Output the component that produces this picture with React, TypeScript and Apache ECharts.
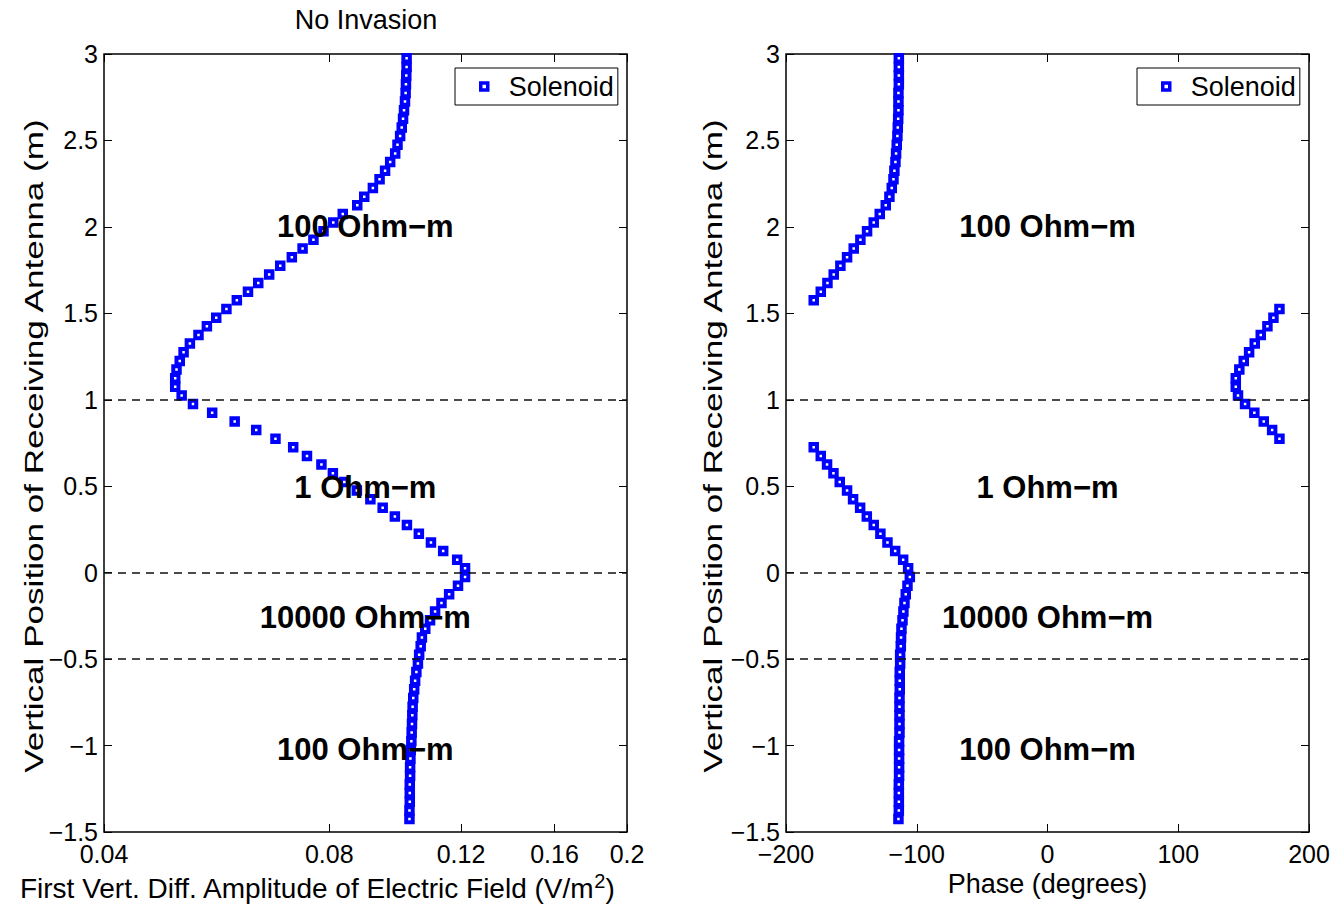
import React, { useEffect, useRef } from 'react';
import * as echarts from 'echarts';

// Vertical position of receiving antenna (m)
const depth = [
  2.975, 2.925, 2.875, 2.825, 2.775, 2.725, 2.675, 2.625, 2.575, 2.525,
  2.475, 2.425, 2.375, 2.325, 2.275, 2.225, 2.175, 2.125, 2.075, 2.025,
  1.975, 1.925, 1.875, 1.825, 1.775, 1.725, 1.675, 1.625, 1.575, 1.525,
  1.475, 1.425, 1.375, 1.325, 1.275, 1.225, 1.175, 1.125, 1.075, 1.025,
  0.975, 0.925, 0.875, 0.825, 0.775, 0.725, 0.675, 0.625, 0.575, 0.525,
  0.475, 0.425, 0.375, 0.325, 0.275, 0.225, 0.175, 0.125, 0.075, 0.025,
  -0.025, -0.075, -0.125, -0.175, -0.225, -0.275, -0.325, -0.375, -0.425, -0.475,
  -0.525, -0.575, -0.625, -0.675, -0.725, -0.775, -0.825, -0.875, -0.925, -0.975,
  -1.025, -1.075, -1.125, -1.175, -1.225, -1.275, -1.325, -1.375, -1.425,
];

// First vertical difference amplitude of electric field (V/m^2)
const amplitude = [
  0.1015, 0.1015, 0.1014, 0.1013, 0.1012, 0.1010, 0.1007, 0.1004, 0.1000, 0.0995,
  0.0987, 0.0980, 0.0965, 0.0950, 0.0934, 0.0915, 0.0891, 0.0872, 0.0834, 0.0810,
  0.0786, 0.0762, 0.0737, 0.0713, 0.0688, 0.0665, 0.0643, 0.0623, 0.0602, 0.0583,
  0.0565, 0.0549, 0.0535, 0.0521, 0.0511, 0.0505, 0.0500, 0.0498, 0.0498, 0.0508,
  0.0526, 0.0558, 0.0598, 0.0639, 0.0678, 0.0716, 0.0747, 0.0781, 0.0809, 0.0838,
  0.0871, 0.0908, 0.0943, 0.0979, 0.1016, 0.1054, 0.1094, 0.1136, 0.1186, 0.1215,
  0.1215, 0.1189, 0.1157, 0.1130, 0.1108, 0.1091, 0.1075, 0.1064, 0.1060, 0.1055,
  0.1051, 0.1046, 0.1042, 0.1039, 0.1036, 0.1034, 0.1033, 0.1032, 0.1031, 0.1030,
  0.1028, 0.1027, 0.1026, 0.1026, 0.1025, 0.1025, 0.1025, 0.1024, 0.1024,
];

// Phase (degrees)
const phaseDeg = [
  -113.7, -113.7, -113.7, -113.7, -114.0, -114.0, -114.0, -114.2, -114.5, -114.8,
  -115.3, -115.8, -116.3, -117.1, -117.8, -119.1, -120.9, -123.7, -128.3, -132.9,
  -138.0, -143.1, -148.2, -153.3, -158.4, -163.5, -168.3, -173.4, -178.8, 177.4,
  172.8, 168.2, 163.1, 158.5, 154.2, 150.1, 146.7, 144.0, 144.0, 145.7,
  151.1, 158.2, 165.4, 171.8, 177.4, -178.8, -173.4, -168.6, -163.7, -158.9,
  -153.3, -148.7, -143.3, -138.2, -132.9, -127.8, -122.4, -116.5, -110.4, -106.6,
  -105.3, -107.1, -108.4, -109.4, -110.2, -110.9, -111.7, -112.0, -112.2, -112.7,
  -112.7, -113.0, -113.0, -113.0, -113.2, -113.2, -113.2, -113.2, -113.2, -113.5,
  -113.5, -113.5, -113.5, -113.5, -113.7, -113.7, -113.7, -113.7, -114.0,
];

const layerNames = ['100 Ohm\u2212m', '1 Ohm\u2212m', '10000 Ohm\u2212m', '100 Ohm\u2212m'];
const layerLabelDepth = [2.0, 0.49, -0.26, -1.02];
const layerLabelAmplitude = 0.0894;
const layerLabelPhase = 0;
const boundaryDepths = [1, 0, -0.5];

const amplitudeTicks = [0.04, 0.08, 0.12, 0.16, 0.2];
const phaseRange = [-200, 200];
const phaseStep = 100;
const depthRange = [-1.5, 3];
const depthStep = 0.5;

const seriesName = 'Solenoid';
const titleText = 'No Invasion';
const yName = 'Vertical Position of Receiving Antenna (m)';
const xNameLeft = '{t|First Vert. Diff. Amplitude of Electric Field (V/m}{s|2}{t|)}';
const xNameRight = 'Phase (degrees)';

const FONT = "'Liberation Sans', Arial, Helvetica, sans-serif";
const BLUE = '#0000ff';
const lg = (v: number) => Math.log10(v);
const minus = (s: string) => s.replace('-', '\u2212');

function buildOption() {
  const ampTickPos = amplitudeTicks.map(lg);
  const ampMin = lg(amplitudeTicks[0]);
  const ampMax = lg(amplitudeTicks[amplitudeTicks.length - 1]);

  const tickFont = { fontSize: 25, color: '#000', fontFamily: FONT };
  const tickStyle = { inside: true, length: 8, lineStyle: { color: '#000', width: 1 } };

  const ampAxisBase = {
    type: 'value',
    gridIndex: 0,
    min: ampMin,
    max: ampMax,
    splitLine: { show: false },
    axisLine: { show: false, onZero: false },
    axisTick: { ...tickStyle, customValues: ampTickPos },
  };
  const phaseAxisBase = {
    type: 'value',
    gridIndex: 1,
    min: phaseRange[0],
    max: phaseRange[1],
    interval: phaseStep,
    splitLine: { show: false },
    axisLine: { show: false, onZero: false },
    axisTick: tickStyle,
  };
  const depthAxis = (gridIndex: number, position: string, showLabel: boolean) => ({
    type: 'value',
    gridIndex,
    position,
    min: depthRange[0],
    max: depthRange[1],
    interval: depthStep,
    splitLine: { show: false },
    axisLine: { show: false, onZero: false },
    axisTick: tickStyle,
    axisLabel: {
      show: showLabel,
      margin: 6,
      ...tickFont,
      formatter: (v: number) => minus(String(v)),
    },
  });

  const symbolStyle = { color: '#ffffff', borderColor: BLUE, borderWidth: 4, opacity: 1 };

  const labelSeries = (xAxisIndex: number, yAxisIndex: number, xVal: number) => ({
    type: 'scatter',
    name: 'layers',
    xAxisIndex,
    yAxisIndex,
    symbol: 'rect',
    symbolSize: 1,
    itemStyle: { color: 'transparent', opacity: 1 },
    z: 10,
    silent: true,
    label: {
      show: true,
      position: 'inside',
      formatter: '{b}',
      fontSize: 31,
      fontWeight: 'bold',
      color: '#000',
      opacity: 1,
      fontFamily: FONT,
    },
    data: layerLabelDepth.map((d, i) => ({ name: layerNames[i], value: [xVal, d] })),
  });

  const boundarySeries = (xAxisIndex: number, yAxisIndex: number) => ({
    type: 'line',
    name: 'boundaries',
    xAxisIndex,
    yAxisIndex,
    data: [],
    z: 1,
    markLine: {
      silent: true,
      symbol: 'none',
      label: { show: false },
      lineStyle: { color: '#111', type: [8, 6], width: 1.5 },
      data: boundaryDepths.map((d) => ({ yAxis: d })),
    },
  });

  const legendBase = (left: number) => ({
    left,
    top: 68,
    orient: 'horizontal',
    data: [{ name: seriesName, icon: 'rect' }],
    itemWidth: 7,
    itemHeight: 7,
    itemStyle: { color: '#ffffff', borderColor: BLUE, borderWidth: 3.5, opacity: 1 },
    textStyle: { fontSize: 27, color: '#000', fontFamily: FONT, padding: [0, 0, 0, 16], lineHeight: 31 },
    borderColor: '#000',
    borderWidth: 1,
    backgroundColor: '#fff',
    padding: [3, 4, 3, 24],
    selectedMode: false,
  });

  const yLabelText = (x: number) => ({
    type: 'text',
    x,
    y: 446,
    rotation: Math.PI / 2,
    scaleX: 1.35,
    silent: true,
    style: {
      text: yName,
      fontSize: 26,
      fontFamily: FONT,
      fill: '#000',
      align: 'center',
      verticalAlign: 'middle',
    },
  });

  const gridBase = {
    top: 54,
    width: 523,
    height: 778,
    show: true,
    borderColor: '#000',
    borderWidth: 1.5,
    backgroundColor: 'transparent',
    containLabel: false,
    outerBoundsMode: 'none',
  };

  return {
    animation: false,
    backgroundColor: '#fff',
    title: {
      text: titleText,
      left: 366,
      top: 6,
      padding: 0,
      textAlign: 'center',
      textStyle: { fontSize: 27, fontWeight: 'normal', color: '#000', fontFamily: FONT },
    },
    legend: [legendBase(455), legendBase(1137)],
    graphic: [yLabelText(34), yLabelText(713)],
    grid: [
      { ...gridBase, left: 104 },
      { ...gridBase, left: 786 },
    ],
    xAxis: [
      {
        ...ampAxisBase,
        position: 'bottom',
        axisLabel: {
          customValues: ampTickPos,
          margin: 9,
          ...tickFont,
          formatter: (v: number) => String(parseFloat(Math.pow(10, v).toFixed(2))),
        },
        name: xNameLeft,
        nameLocation: 'middle',
        nameGap: 35,
        nameTextStyle: {
          padding: [0, 97, 0, 0],
          rich: {
            t: { fontSize: 28, color: '#000', fontFamily: FONT },
            s: { fontSize: 20, color: '#000', fontFamily: FONT, padding: [0, 0, 16, 0] },
          },
        },
      },
      { ...ampAxisBase, position: 'top', axisLabel: { show: false } },
      {
        ...phaseAxisBase,
        position: 'bottom',
        axisLabel: { margin: 9, ...tickFont, formatter: (v: number) => minus(String(v)) },
        name: xNameRight,
        nameLocation: 'middle',
        nameGap: 36,
        nameTextStyle: { fontSize: 27, color: '#000', fontFamily: FONT },
      },
      { ...phaseAxisBase, position: 'top', axisLabel: { show: false } },
    ],
    yAxis: [
      depthAxis(0, 'left', true),
      depthAxis(0, 'right', false),
      depthAxis(1, 'left', true),
      depthAxis(1, 'right', false),
    ],
    series: [
      boundarySeries(0, 0),
      boundarySeries(2, 2),
      {
        type: 'scatter',
        name: seriesName,
        xAxisIndex: 0,
        yAxisIndex: 0,
        symbol: 'rect',
        symbolSize: 6.5,
        itemStyle: symbolStyle,
        z: 3,
        data: depth.map((d, i) => [lg(amplitude[i]), d]),
      },
      {
        type: 'scatter',
        name: seriesName,
        xAxisIndex: 2,
        yAxisIndex: 2,
        symbol: 'rect',
        symbolSize: 6.5,
        itemStyle: symbolStyle,
        z: 3,
        data: depth.map((d, i) => [phaseDeg[i], d]),
      },
      labelSeries(0, 0, lg(layerLabelAmplitude)),
      labelSeries(2, 2, layerLabelPhase),
    ],
  };
}

export default function App() {
  const ref = useRef<HTMLDivElement>(null);
  useEffect(() => {
    if (!ref.current) return;
    const chart = echarts.init(ref.current, null, { renderer: 'svg' });
    chart.setOption(buildOption() as any);
    return () => chart.dispose();
  }, []);
  return (
    <div
      ref={ref}
      style={{ position: 'absolute', left: 0, top: 0, width: 1335, height: 904, background: '#fff' }}
    />
  );
}
